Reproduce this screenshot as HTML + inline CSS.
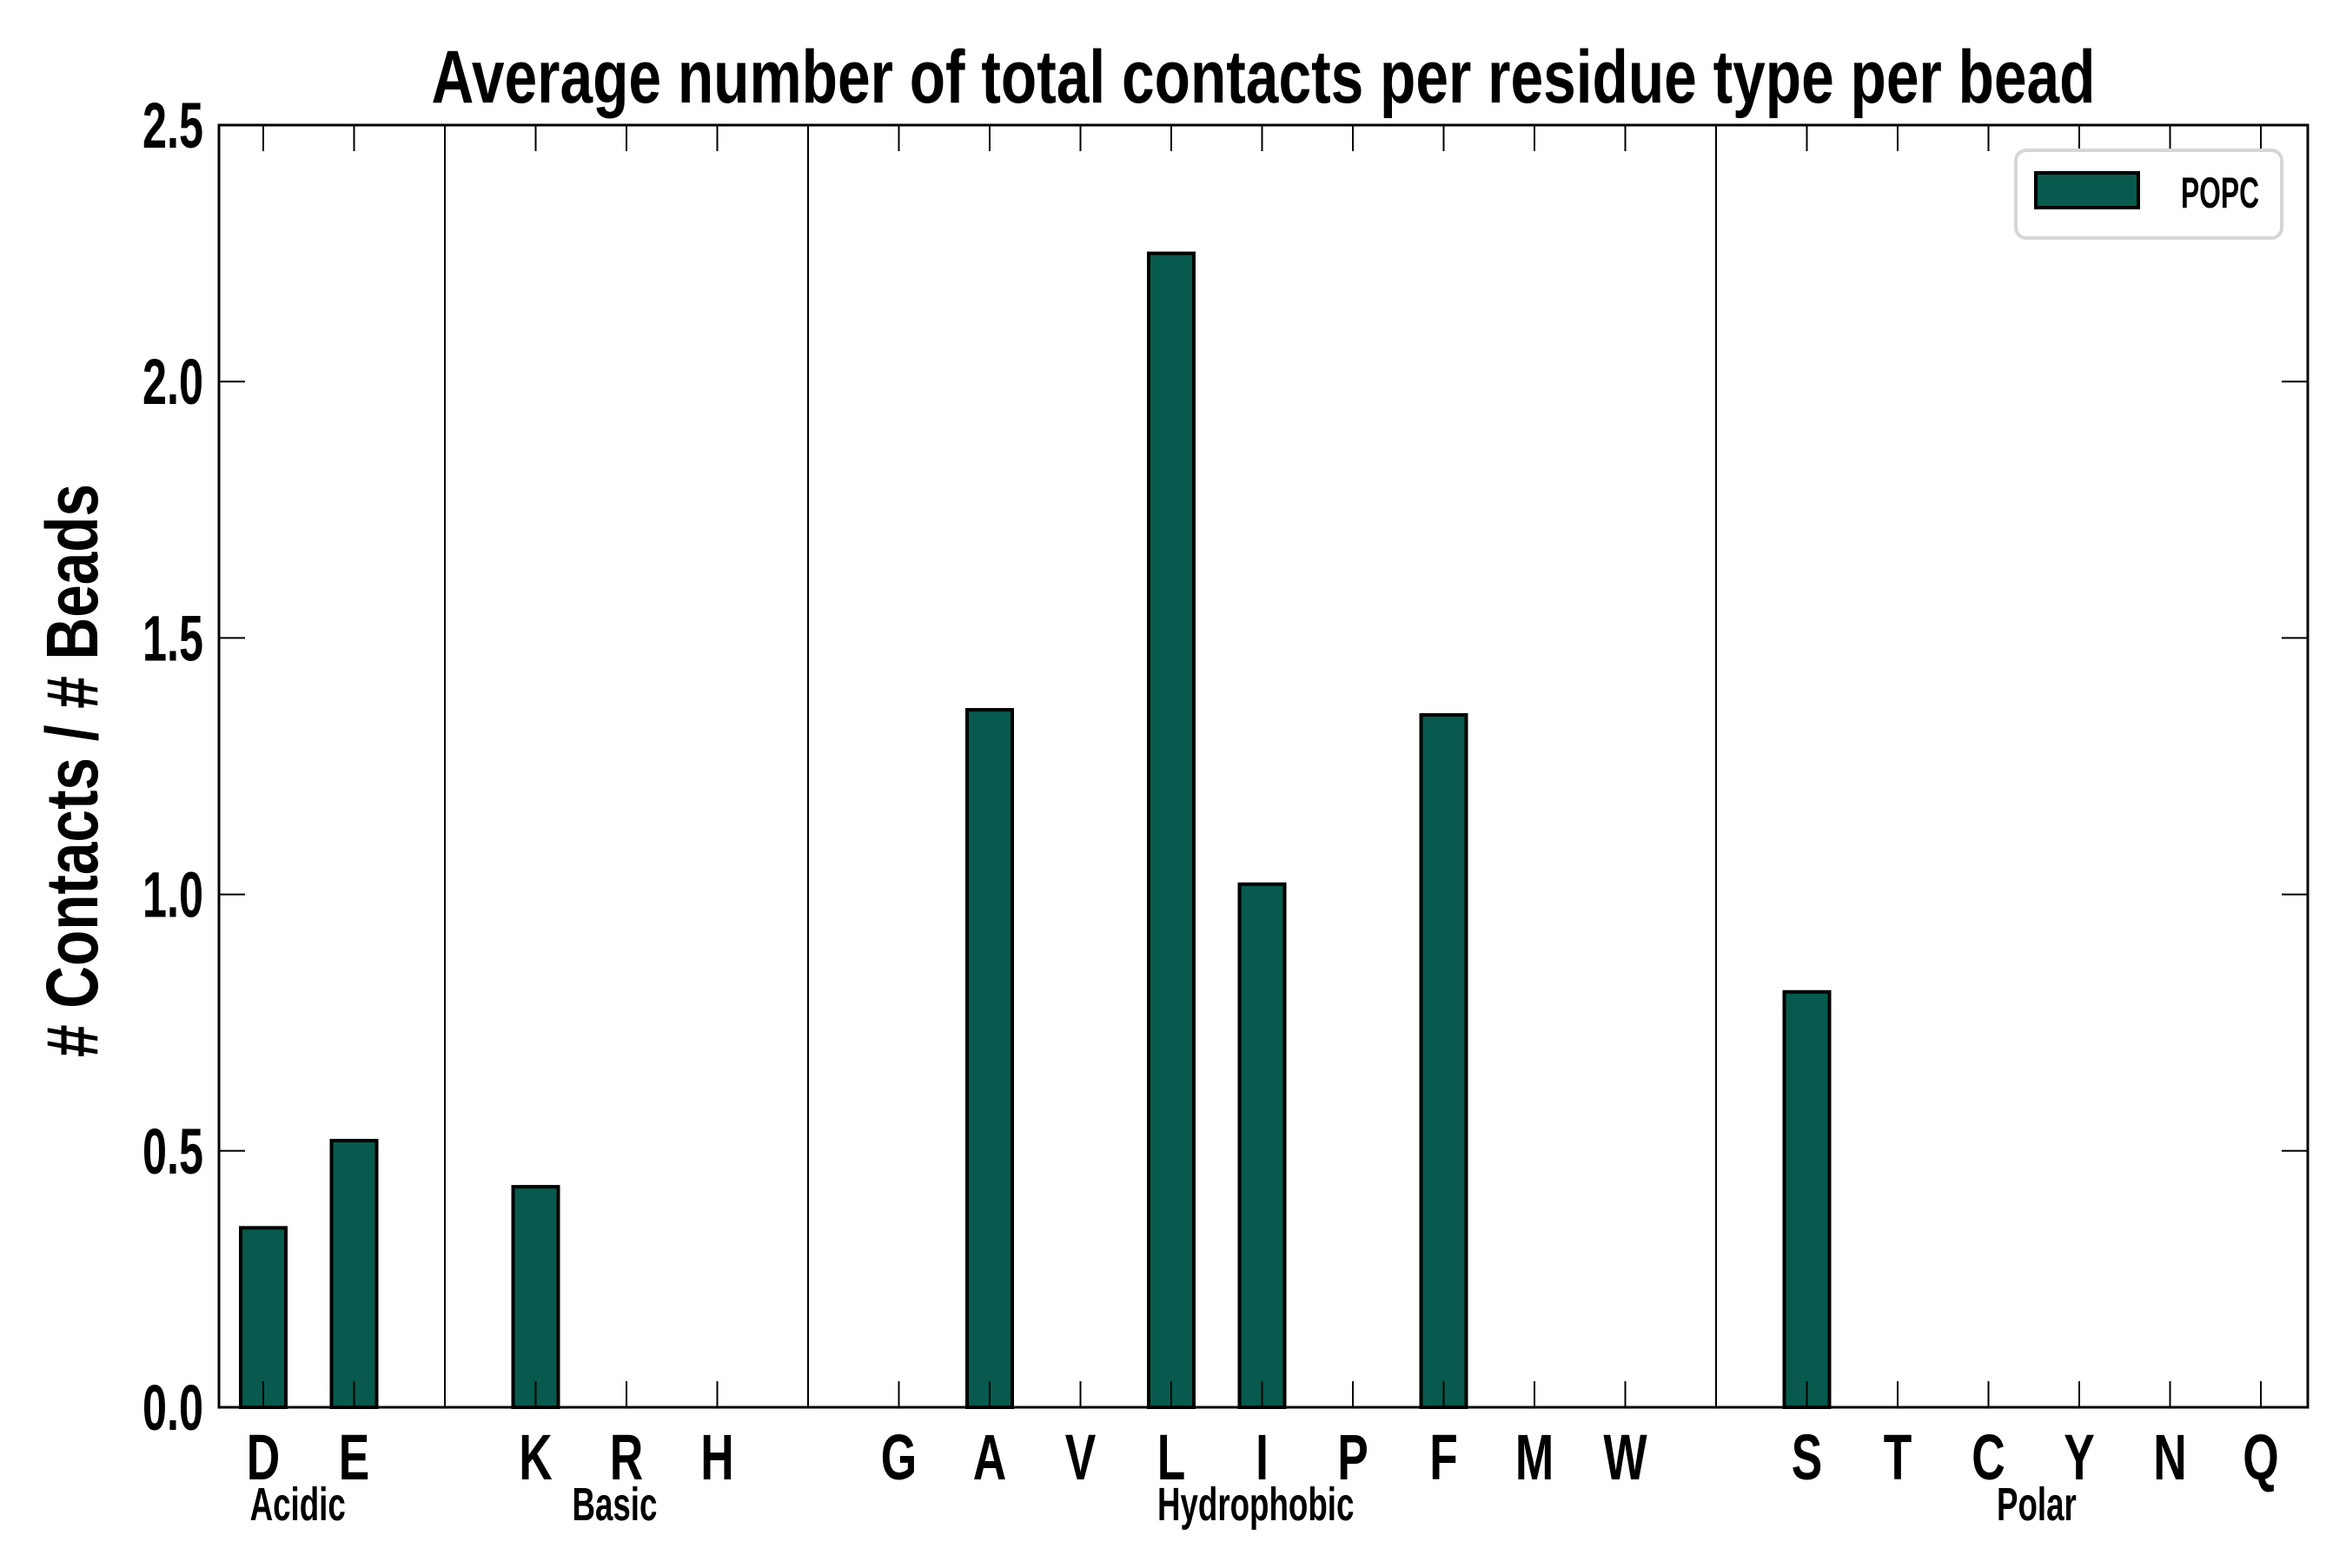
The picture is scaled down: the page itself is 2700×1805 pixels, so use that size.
<!DOCTYPE html>
<html><head><meta charset="utf-8"><style>
html,body{margin:0;padding:0;background:#fff}
svg text{font-family:"Liberation Sans Narrow","Liberation Sans",sans-serif;font-weight:bold;fill:#000}
</style></head><body>
<svg id="chart" width="2700" height="1800" viewBox="0 0 2700 1800" xmlns="http://www.w3.org/2000/svg">
<rect width="2700" height="1800" fill="#fff"/>
<text x="1454" y="118" text-anchor="middle" font-size="86" textLength="1915" lengthAdjust="spacingAndGlyphs">Average number of total contacts per residue type per bead</text>
<text transform="translate(112,887) rotate(-90)" text-anchor="middle" font-size="84" textLength="660" lengthAdjust="spacingAndGlyphs"># Contacts / # Beads</text>
<g id="plot"></g>
<g>
<rect x="2320" y="173" width="306" height="101" rx="12" fill="#fff" stroke="#d6d6d6" stroke-width="4"/>
<rect x="2343" y="199" width="118" height="40" fill="#075a4d" stroke="#000" stroke-width="4"/>
<text x="2510" y="239" font-size="50" font-weight="normal" textLength="90" lengthAdjust="spacingAndGlyphs">POPC</text>
</g>
</svg>
<script>
const categories = ["D","E","","K","R","H","","G","A","V","L","I","P","F","M","W","","S","T","C","Y","N","Q"];
const values = [0.35,0.52,0,0.43,0,0,0,0,1.36,0,2.25,1.02,0,1.35,0,0,0,0.81,0,0,0,0,0];
const yTicks = [0.0,0.5,1.0,1.5,2.0,2.5];
const groups = ["Acidic","Basic","Hydrophobic","Polar"];
const groupCenters = [0.38,3.87,10.93,19.53];

const L=252,R=2656,T=144,B=1620;
const ns="http://www.w3.org/2000/svg";
const g=document.getElementById('plot');
function x(i){return 303+i*104.5;}
function y(v){return B-(v/2.5)*(B-T);}
function mk(tag,attrs){const e=document.createElementNS(ns,tag);for(const k in attrs)e.setAttribute(k,attrs[k]);g.appendChild(e);return e;}

categories.forEach((c,i)=>{
  if(c===""){
    const s=mk('line',{x1:x(i),x2:x(i),y1:T,y2:B,stroke:'#000','stroke-width':2});
    
    
  }
});
values.forEach((v,i)=>{
  const r=mk('rect',{x:x(i)-26,y:y(v),width:52,height:Math.max(0,B-y(v)),fill:'#075a4d',stroke:'#000','stroke-width':4});
  
  
});
const f=mk('rect',{x:L,y:T,width:R-L,height:B-T,fill:'none',stroke:'#000','stroke-width':3});


categories.forEach((c,i)=>{
  mk('line',{x1:x(i),x2:x(i),y1:B,y2:B-30,stroke:'#000','stroke-width':2});
  mk('line',{x1:x(i),x2:x(i),y1:T,y2:T+30,stroke:'#000','stroke-width':2});
  if(c){
    const t=mk('text',{transform:'translate('+x(i)+',1703) scale(0.72,1)','text-anchor':'middle','font-size':74});
    t.textContent=c;
    
    
  }
});
yTicks.forEach(v=>{
  mk('line',{x1:L,x2:L+30,y1:y(v),y2:y(v),stroke:'#000','stroke-width':2});
  mk('line',{x1:R,x2:R-30,y1:y(v),y2:y(v),stroke:'#000','stroke-width':2});
  const t=mk('text',{transform:'translate(234,'+(y(v)+26)+') scale(0.68,1)','text-anchor':'end','font-size':74});
  t.textContent=v.toFixed(1);
  
  
});
groups.forEach((gname,k)=>{
  const t=mk('text',{transform:'translate('+x(groupCenters[k])+',1750) scale(0.68,1)','text-anchor':'middle','font-size':54});
  t.textContent=gname;
  
  
});
</script>
</body></html>
